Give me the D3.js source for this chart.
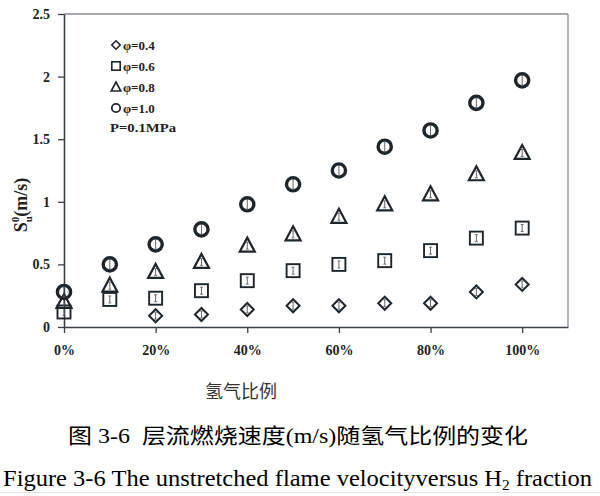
<!DOCTYPE html>
<html><head><meta charset="utf-8">
<script src="https://cdn.jsdelivr.net/npm/d3@7"></script>
<style>body{margin:0;background:#fff}</style>
</head><body>
<svg id="chart" width="600" height="496"></svg>
<script>
const fractions = [0, 0.1, 0.2, 0.3, 0.4, 0.5, 0.6, 0.7, 0.8, 0.9, 1.0];
const phi04 = [null, null, 0.09, 0.10, 0.14, 0.17, 0.17, 0.19, 0.19, 0.28, 0.34];
const phi06 = [0.12, 0.22, 0.23, 0.29, 0.37, 0.45, 0.50, 0.53, 0.61, 0.71, 0.79];
const phi08 = [0.20, 0.33, 0.44, 0.52, 0.65, 0.74, 0.88, 0.98, 1.06, 1.22, 1.39];
const phi10 = [0.28, 0.50, 0.66, 0.78, 0.98, 1.14, 1.25, 1.44, 1.57, 1.79, 1.97];
const seriesNames = ["φ=0.4", "φ=0.6", "φ=0.8", "φ=1.0"];
const seriesShapes = ["diamond", "square", "triangle", "circle"];
const xTicks = [0, 0.2, 0.4, 0.6, 0.8, 1.0];
const xTickLabels = ["0%", "20%", "40%", "60%", "80%", "100%"];
const yTicks = [0, 0.5, 1, 1.5, 2, 2.5];
const yTickLabels = ["0", "0.5", "1", "1.5", "2", "2.5"];
const pressureNote = "P=0.1MPa";
const xTitle = "氢气比例";
const caption1 = "图 3-6\u00a0\u00a0层流燃烧速度(m/s)随氢气比例的变化";

const svg = d3.select("#chart");
const ink = "#1e262c";
const serif = "'Liberation Serif','Times New Roman',serif";

const x = d3.scaleLinear().domain([0, 1.1]).range([64, 568]);
const y = d3.scaleLinear().domain([0, 2.5]).range([327, 14]);

// frame (top/right lighter)
svg.append("line").attr("x1", x(0)).attr("x2", x(1.1)).attr("y1", y(2.5)).attr("y2", y(2.5))
  .attr("stroke", "#8a8e9a").attr("stroke-width", 1.3);
svg.append("line").attr("x1", x(1.1)).attr("x2", x(1.1)).attr("y1", y(2.5)).attr("y2", y(0))
  .attr("stroke", "#8a8e9a").attr("stroke-width", 1.3);

// axes
const xAxis = svg.append("g").attr("transform", `translate(0,${y(0)})`)
  .call(d3.axisBottom(x).tickValues(xTicks).tickFormat((d, i) => xTickLabels[i]).tickSize(6).tickSizeOuter(0).tickPadding(12));
const yAxis = svg.append("g").attr("transform", `translate(${x(0)},0)`)
  .call(d3.axisLeft(y).tickValues(yTicks).tickFormat((d, i) => yTickLabels[i]).tickSize(6).tickSizeOuter(0).tickPadding(8));
[xAxis, yAxis].forEach(g => {
  g.select(".domain").attr("stroke", "#3a4048").attr("stroke-width", 1.6);
  g.selectAll(".tick line").attr("stroke", "#3a4048").attr("stroke-width", 1.3);
  g.selectAll(".tick text").attr("fill", "#222").attr("font-family", serif)
    .attr("font-weight", "bold").attr("font-size", 14);
});

// markers
function drawMarker(g, shape, cx, cy) {
  if (shape === "circle") {
    g.append("circle").attr("cx", cx).attr("cy", cy).attr("r", 6.6)
      .attr("fill", "none").attr("stroke", ink).attr("stroke-width", 3.4);
  } else if (shape === "square") {
    g.append("rect").attr("x", cx - 6.5).attr("y", cy - 6.5).attr("width", 13).attr("height", 13)
      .attr("fill", "none").attr("stroke", ink).attr("stroke-width", 1.9);
  } else if (shape === "triangle") {
    g.append("path").attr("d", `M${cx},${cy - 8}L${cx + 7.5},${cy + 6}L${cx - 7.5},${cy + 6}Z`)
      .attr("fill", "none").attr("stroke", ink).attr("stroke-width", 2.2).attr("stroke-linejoin", "miter");
  } else if (shape === "diamond") {
    g.append("path").attr("d", `M${cx},${cy - 6.5}L${cx + 6.5},${cy}L${cx},${cy + 6.5}L${cx - 6.5},${cy}Z`)
      .attr("fill", "none").attr("stroke", ink).attr("stroke-width", 2);
  }
}
function drawBar(g, cx, cy, h) {
  g.append("line").attr("x1", cx).attr("x2", cx).attr("y1", cy - h).attr("y2", cy + h)
    .attr("stroke", "#555").attr("stroke-width", 0.9);
  g.append("line").attr("x1", cx - 1.5).attr("x2", cx + 1.5).attr("y1", cy - h).attr("y2", cy - h)
    .attr("stroke", "#555").attr("stroke-width", 0.8);
  g.append("line").attr("x1", cx - 1.5).attr("x2", cx + 1.5).attr("y1", cy + h).attr("y2", cy + h)
    .attr("stroke", "#555").attr("stroke-width", 0.8);
}

const allSeries = [phi04, phi06, phi08, phi10];
const pts = svg.append("g");
allSeries.forEach((vals, si) => {
  vals.forEach((v, i) => {
    if (v === null) return;
    const cx = x(fractions[i]), cy = y(v);
    drawMarker(pts, seriesShapes[si], cx, cy);
    drawBar(pts, cx, cy, si === 3 ? 5 : 3.5);
  });
});

// legend
const legend = svg.append("g");
const legY = [45, 66, 87, 108];
seriesNames.forEach((name, i) => {
  const lg = legend.append("g");
  const s = seriesShapes[i];
  const cx = 116, cy = legY[i];
  if (s === "circle") lg.append("circle").attr("cx", cx).attr("cy", cy).attr("r", 4.2).attr("fill", "none").attr("stroke", ink).attr("stroke-width", 1.8);
  if (s === "square") lg.append("rect").attr("x", cx - 4.2).attr("y", cy - 4.2).attr("width", 8.4).attr("height", 8.4).attr("fill", "none").attr("stroke", ink).attr("stroke-width", 1.6);
  if (s === "triangle") lg.append("path").attr("d", `M${cx},${cy - 5}L${cx + 4.8},${cy + 4}L${cx - 4.8},${cy + 4}Z`).attr("fill", "none").attr("stroke", ink).attr("stroke-width", 1.6);
  if (s === "diamond") lg.append("path").attr("d", `M${cx},${cy - 4.2}L${cx + 4.2},${cy}L${cx},${cy + 4.2}L${cx - 4.2},${cy}Z`).attr("fill", "none").attr("stroke", ink).attr("stroke-width", 1.6);
  lg.append("text").attr("x", 123).attr("y", cy + 4.5).attr("font-family", serif).attr("font-weight", "bold")
    .attr("font-size", 13).attr("fill", "#222").text(name);
});
legend.append("text").attr("x", 110).attr("y", 132).attr("font-family", serif).attr("font-weight", "bold")
  .attr("font-size", 13).attr("fill", "#222").attr("textLength", 66).attr("lengthAdjust", "spacingAndGlyphs").text(pressureNote);

// y title
const yt = svg.append("text").attr("transform", "translate(27,205) rotate(-90)")
  .attr("text-anchor", "middle").attr("font-family", serif).attr("font-weight", "bold")
  .attr("font-size", 18).attr("fill", "#222");
yt.append("tspan").text("S");
yt.append("tspan").attr("font-size", 11).attr("dy", 5).text("u");
yt.append("tspan").attr("font-size", 11).attr("dy", -13).attr("dx", -6).text("0");
yt.append("tspan").attr("dy", 8).text("(m/s)");

// x title
svg.append("text").attr("x", 241).attr("y", 398).attr("text-anchor", "middle")
  .attr("font-family", "'Noto Sans CJK SC',sans-serif").attr("font-size", 18).attr("fill", "#333").text(xTitle);

// captions
svg.append("text").attr("x", 68).attr("y", 443).attr("font-family", "'Liberation Serif','Noto Sans CJK SC',serif")
  .attr("font-size", 21).attr("fill", "#000").attr("textLength", 460).attr("lengthAdjust", "spacingAndGlyphs")
  .text(caption1);
const c2 = svg.append("text").attr("x", 3).attr("y", 486).attr("font-family", serif)
  .attr("font-size", 24).attr("fill", "#000").attr("textLength", 589).attr("lengthAdjust", "spacingAndGlyphs");
c2.append("tspan").text("Figure 3-6 The unstretched flame velocityversus H");
c2.append("tspan").attr("font-size", 15).attr("dy", 4).text("2");
c2.append("tspan").attr("dy", -4).text(" fraction");
svg.append("line").attr("x1", 0).attr("x2", 600).attr("y1", 492.5).attr("y2", 492.5).attr("stroke", "#e2e2e2").attr("stroke-width", 1);
</script>
</body></html>
